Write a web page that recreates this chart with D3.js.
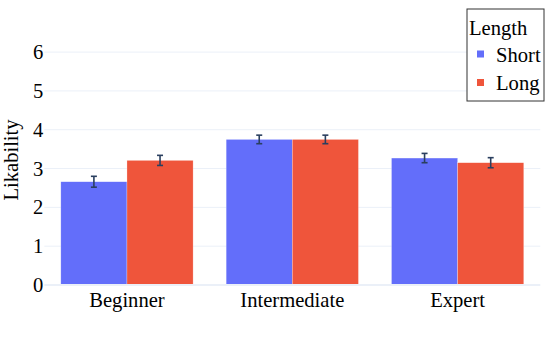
<!DOCTYPE html>
<html>
<head>
<meta charset="utf-8">
<script src="https://cdn.jsdelivr.net/npm/d3@7"></script>
<style>
  body { margin: 0; background: #fff; }
  svg text { font-family: "Liberation Serif", "Times New Roman", Times, "DejaVu Serif", serif; fill: #000; }
</style>
</head>
<body>
<div id="chart"></div>
<script>
// data
const categories = ["Beginner", "Intermediate", "Expert"];
const seriesNames = ["Short", "Long"];
const shortValues = [2.66, 3.75, 3.27];
const longValues = [3.21, 3.75, 3.15];
const shortErrors = [0.14, 0.11, 0.12];
const longErrors = [0.13, 0.11, 0.13];
const yTicks = [0, 1, 2, 3, 4, 5, 6];

const colours = { Short: "#636efa", Long: "#ef553b" };
const font = '"Liberation Serif", "Times New Roman", Times, "DejaVu Serif", serif';
const fontSize = "20.6px";

const W = 555, H = 347;
const plot = { left: 44.3, right: 540.3, top: 35, bottom: 285 };

const svg = d3.select("#chart").append("svg")
    .attr("width", W)
    .attr("height", H)
    .style("font-family", font);

// scales
const x0 = d3.scaleBand()
    .domain(categories)
    .range([plot.left, plot.right])
    .paddingInner(0.2)
    .paddingOuter(0.1);

const x1 = d3.scaleBand()
    .domain(seriesNames)
    .range([0, x0.bandwidth()]);

const y = d3.scaleLinear()
    .domain([0, 6.44])
    .range([plot.bottom, plot.top]);

// grid lines
svg.append("g")
    .selectAll("line")
    .data(yTicks.filter(d => d > 0))
    .enter().append("line")
    .attr("x1", plot.left)
    .attr("x2", plot.right)
    .attr("y1", d => y(d))
    .attr("y2", d => y(d))
    .attr("stroke", "#ebf0f8")
    .attr("stroke-width", 1);

// y axis labels
const yAxis = svg.append("g")
    .attr("transform", "translate(" + plot.left + ",0)")
    .call(d3.axisLeft(y).tickValues(yTicks).tickFormat(d3.format("d")).tickSize(0).tickPadding(1));
yAxis.attr("font-family", null).attr("font-size", null);
yAxis.select(".domain").remove();
yAxis.selectAll("text")
    .style("font-size", fontSize)
    .style("font-family", font);

// build rows for the bars
const rows = categories.map((c, i) => ({
    category: c,
    values: [
        { key: "Short", value: shortValues[i], err: shortErrors[i] },
        { key: "Long", value: longValues[i], err: longErrors[i] }
    ]
}));

const groups = svg.append("g")
    .selectAll("g")
    .data(rows)
    .enter().append("g")
    .attr("transform", d => "translate(" + x0(d.category) + ",0)");

groups.selectAll("rect")
    .data(d => d.values)
    .enter().append("rect")
    .attr("x", d => x1(d.key))
    .attr("y", d => y(d.value))
    .attr("width", x1.bandwidth())
    .attr("height", d => y(0) - y(d.value))
    .attr("fill", d => colours[d.key])
    .attr("stroke", "#fff")
    .attr("stroke-opacity", 0.5)
    .attr("stroke-width", 0.5);

// zero line
svg.append("line")
    .attr("x1", plot.left)
    .attr("x2", plot.right)
    .attr("y1", y(0))
    .attr("y2", y(0))
    .attr("stroke", "#ebf0f8")
    .attr("stroke-width", 2);

// error bars
const errs = groups.selectAll("g.err")
    .data(d => d.values)
    .enter().append("g")
    .attr("class", "err")
    .attr("stroke", "#2a3f5f")
    .attr("stroke-width", 1.6);

errs.append("line")
    .attr("x1", d => x1(d.key) + x1.bandwidth() / 2)
    .attr("x2", d => x1(d.key) + x1.bandwidth() / 2)
    .attr("y1", d => y(d.value - d.err))
    .attr("y2", d => y(d.value + d.err));

errs.selectAll("line.cap")
    .data(d => [d.value - d.err, d.value + d.err].map(v => ({ key: d.key, v: v })))
    .enter().append("line")
    .attr("class", "cap")
    .attr("x1", d => x1(d.key) + x1.bandwidth() / 2 - 3)
    .attr("x2", d => x1(d.key) + x1.bandwidth() / 2 + 3)
    .attr("y1", d => y(d.v))
    .attr("y2", d => y(d.v));

// x axis labels
const xAxis = svg.append("g")
    .attr("transform", "translate(0," + plot.bottom + ")")
    .call(d3.axisBottom(x0).tickSize(0).tickPadding(7));
xAxis.attr("font-family", null).attr("font-size", null);
xAxis.select(".domain").remove();
xAxis.selectAll("text")
    .style("font-size", fontSize)
    .style("font-family", font);

// y title
svg.append("text")
    .attr("transform", "translate(18," + ((plot.top + plot.bottom) / 2) + ") rotate(-90)")
    .attr("text-anchor", "middle")
    .style("font-size", fontSize)
    .text("Likability");

// legend
const legend = svg.append("g")
    .attr("transform", "translate(467,9)");

legend.append("rect")
    .attr("x", 0)
    .attr("y", 0)
    .attr("width", 77)
    .attr("height", 92)
    .attr("fill", "#fff")
    .attr("stroke", "#333")
    .attr("stroke-width", 1);

legend.append("text")
    .attr("x", 2)
    .attr("y", 26)
    .style("font-size", fontSize)
    .text("Length");

const items = legend.selectAll(".legend")
    .data(seriesNames)
    .enter().append("g")
    .attr("class", "legend")
    .attr("transform", (d, i) => "translate(0," + (45 + i * 28.5) + ")");

items.append("rect")
    .attr("x", 10)
    .attr("y", -3.5)
    .attr("width", 7)
    .attr("height", 7)
    .attr("fill", d => colours[d]);

items.append("text")
    .attr("x", 29)
    .attr("y", 7.5)
    .style("font-size", fontSize)
    .text(d => d);
</script>
</body>
</html>
